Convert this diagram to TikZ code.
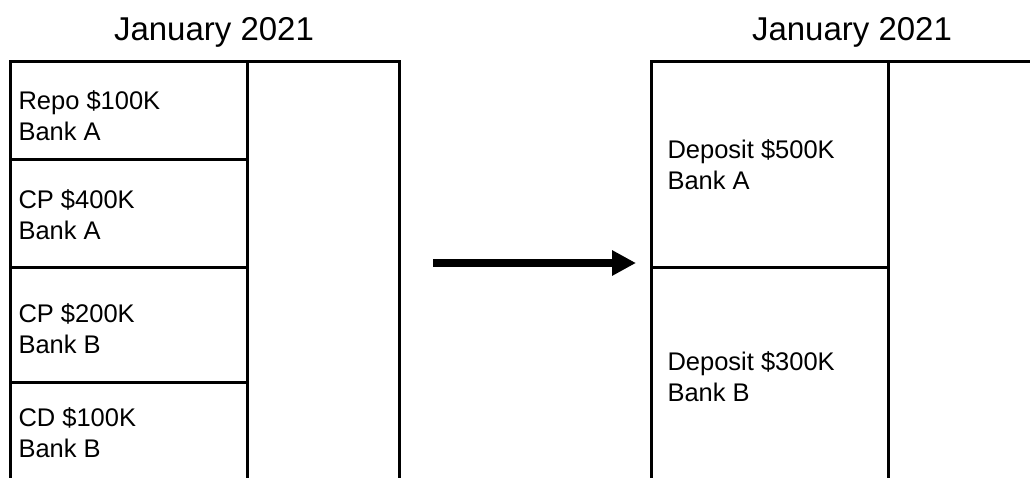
\documentclass[tikz,border=0pt]{standalone}
\usepackage{fontspec}
\setmainfont{Liberation Sans}
\usetikzlibrary{arrows.meta}

\begin{document}
\begin{tikzpicture}[x=1pt,y=-1pt,line width=3pt,
		cell/.style={anchor=base west,inner sep=0pt,align=left,font=\fontsize{25.5}{31}\selectfont},
		title/.style={anchor=base,inner sep=0pt,font=\fontsize{33}{40}\selectfont}]
		\useasboundingbox (0,0) rectangle (1030,477);
		% before
		\node[title] (oldtitle) at (214,40) {January 2021};
		\draw (10,490)--(10,61)--(399,61)--(399,490);
		\draw (247,61)--(247,490);
		\draw (10,159)--(247,159) (10,267)--(247,267) (10,382)--(247,382);
		\node[cell] (repoA) at (17,140) {Repo \$100K\\Bank A};
		\node[cell] (cpA) at (17,239) {CP \$400K\\Bank A};
		\node[cell] (cpB) at (17,353) {CP \$200K\\Bank B};
		\node[cell] (cdB) at (17,457) {CD \$100K\\Bank B};
		% after
		\node[title] (newtitle) at (852,40) {January 2021};
		\draw (651,490)--(651,61)--(1040,61)--(1040,490);
		\draw (888,61)--(888,490);
		\draw (651,267)--(888,267);
		\node[cell] (depA) at (666,189) {Deposit \$500K\\Bank A};
		\node[cell] (depB) at (666,401) {Deposit \$300K\\Bank B};
		% arrow
		\coordinate (from) at (433,263);
		\coordinate (to) at (636,263);
		\draw[line width=8pt,-{Triangle[length=24pt,width=24pt]}] (from)--(to);
\end{tikzpicture}
\end{document}
